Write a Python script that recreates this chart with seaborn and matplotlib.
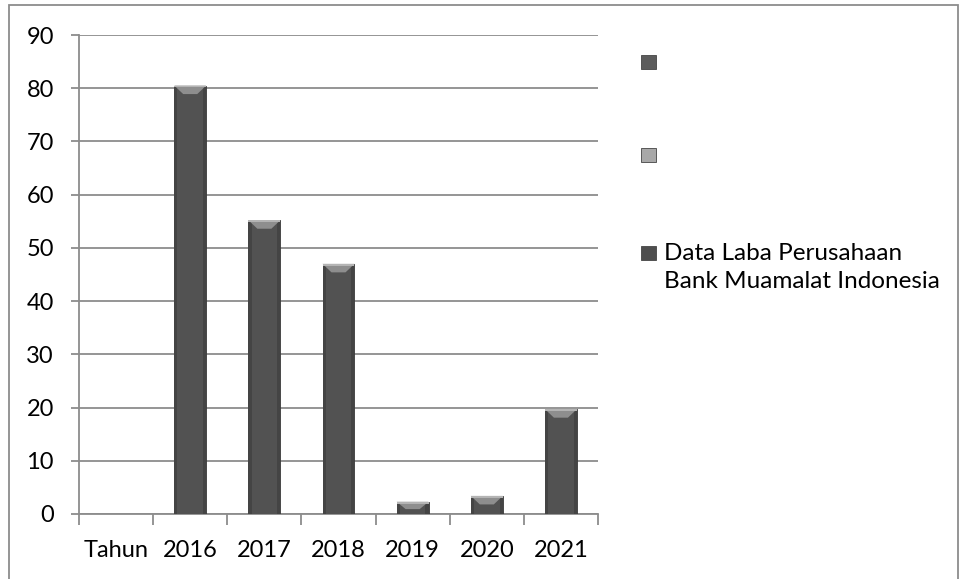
import matplotlib
matplotlib.use("Agg")
import matplotlib.pyplot as plt
import seaborn as sns
import pandas as pd
import numpy as np
from matplotlib.patches import Rectangle, Polygon

categories = ["Tahun", "2016", "2017", "2018", "2019", "2020", "2021"]
laba = [0, 80.5, 55.2, 47.0, 2.3, 3.4, 19.7]
series_name = "Data Laba Perusahaan\nBank Muamalat Indonesia"
legend_labels = ["", "", series_name]
legend_colors = ["#5c5c5c", "#a8a8a8", "#4e4e4e"]
yticks = list(range(0, 91, 10))

sns.set_theme(style="white")
plt.rcParams["font.family"] = ["Lato", "DejaVu Sans"]

df = pd.DataFrame({"Tahun": categories, "Laba": laba})

W, H = 960, 579
fig = plt.figure(figsize=(W/100, H/100), dpi=100)
ax = fig.add_axes([79/W, 1-514/H, (598-79)/W, (514-35)/H])

sns.barplot(data=df, x="Tahun", y="Laba", ax=ax, color="#525252",
            width=0.43, saturation=1, edgecolor="#3a3a3a", linewidth=0.6, zorder=3)

# bevel highlight on each bar (derived from bar geometry)
for p in ax.patches:
    h = p.get_height()
    if h <= 0:
        continue
    x0 = p.get_x(); w = p.get_width()
    cap = min(1.6, h * 0.6)
    ax.add_patch(Rectangle((x0, 0), w*0.1, h, facecolor="#444444", edgecolor="none", zorder=4))
    ax.add_patch(Rectangle((x0 + w*0.9, 0), w*0.1, h, facecolor="#444444", edgecolor="none", zorder=4))
    ax.add_patch(Polygon([(x0, h), (x0 + w, h), (x0 + w*0.72, h - cap), (x0 + w*0.28, h - cap)],
                         closed=True, facecolor="#8e8e8e", edgecolor="none", zorder=5))
    ax.add_patch(Rectangle((x0, h - 0.35), w, 0.35, facecolor="#b4b4b4", edgecolor="none", zorder=6))

ax.set_ylim(0, 90)
ax.set_xlim(-0.5, len(categories) - 0.5)
ax.set_yticks(yticks)
ax.set_yticklabels([str(t) for t in yticks], fontsize=17)
ax.yaxis.grid(True, color="#8c8c8c", linewidth=1.3, zorder=0)
ax.set_axisbelow(True)
ax.set_xlabel("")
ax.set_ylabel("")

for s in ["top", "right"]:
    ax.spines[s].set_visible(False)
for s in ["left", "bottom"]:
    ax.spines[s].set_color("#8c8c8c")
    ax.spines[s].set_linewidth(1.3)

ax.tick_params(axis="y", which="major", direction="out", length=6, width=1.3,
               color="#8c8c8c", pad=12, labelcolor="black", left=True)
ax.set_xticks(range(len(categories)))
ax.set_xticklabels(categories, fontsize=17)
ax.tick_params(axis="x", which="major", length=0, pad=19, labelcolor="black")
ax.set_xticks(np.arange(-0.5, len(categories), 1.0), minor=True)
ax.tick_params(axis="x", which="minor", direction="out", length=8, width=1.3,
               color="#8c8c8c", bottom=True)

# legend (manual layout, pixel positions)
leg_y = [62, 155, 253]
for lab, col, yc in zip(legend_labels, legend_colors, leg_y):
    fig.add_artist(Rectangle((641/W, 1-(yc+7)/H), 15/W, 14/H, transform=fig.transFigure,
                             facecolor=col, edgecolor="#444444", linewidth=0.6))
    if lab:
        fig.text(664/W, 1-(yc-10)/H, lab, fontsize=17.5, va="top", ha="left",
                 linespacing=1.4, color="black")

fig.add_artist(Rectangle((9/W, -0.02), (958-9)/W, 1.02 - 5/H,
                         transform=fig.transFigure, fill=False,
                         edgecolor="#8c8c8c", linewidth=1.3))

fig.savefig("out.png", dpi=100)
